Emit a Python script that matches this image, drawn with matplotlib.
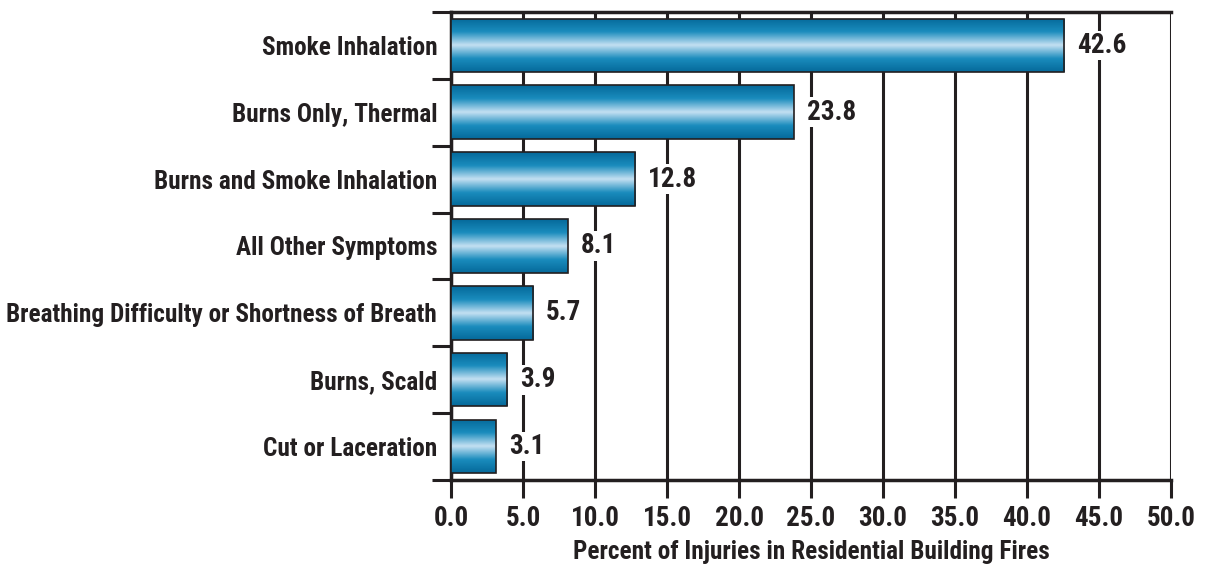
import matplotlib.pyplot as plt
import numpy as np
from matplotlib.colors import LinearSegmentedColormap
from matplotlib import font_manager

# Data
categories = ['Smoke Inhalation', 'Burns Only, Thermal', 'Burns and Smoke Inhalation',
              'All Other Symptoms', 'Breathing Difficulty or Shortness of Breath',
              'Burns, Scald', 'Cut or Laceration']
values = [42.6, 23.8, 12.8, 8.1, 5.7, 3.9, 3.1]
xticks = [0, 5, 10, 15, 20, 25, 30, 35, 40, 45, 50]

# look for a condensed bold face
cands = []
for f in font_manager.fontManager.ttflist:
    n = (f.name + ' ' + f.fname).lower()
    narrow = 'condensed' in n or 'narrow' in n or f.stretch in ('condensed', 'semi-condensed', 'extra-condensed')
    bold = f.weight in (700, 'bold') or 'bold' in f.fname.lower()
    if narrow and bold and 'oblique' not in n and 'italic' not in n:
        cands.append(f)
cands.sort(key=lambda f: ('roboto' not in f.fname.lower(), 'liberation' not in f.fname.lower(),
                          'semi' in f.fname.lower(), 'extra' in f.fname.lower()))
if cands:
    fp = font_manager.FontProperties(fname=cands[0].fname)
    condensed = True
else:
    fp = font_manager.FontProperties(family='DejaVu Sans', weight='bold')
    condensed = False

def font(size):
    p = fp.copy()
    p.set_size(size if condensed else size * 0.8)
    return p

ink = '#231f20'
fig = plt.figure(figsize=(12.06, 5.68), dpi=100)
ax = fig.add_axes([0.374, 0.155, 0.597, 0.824])

ypos = np.arange(len(categories))
bh = 0.8
bars = ax.barh(ypos, values, height=bh, facecolor='none', edgecolor=ink,
               linewidth=1.2, zorder=4)

cmap = LinearSegmentedColormap.from_list('tube', ['#05699a', '#1a8cbd', '#c4e0f2',
                                                  '#1a8cbd', '#05699a'])
grad = np.linspace(0, 1, 256).reshape(-1, 1)
for b, y, v in zip(bars, ypos, values):
    im = ax.imshow(grad, cmap=cmap, aspect='auto', interpolation='bicubic',
                   extent=[0, v, y + bh / 2, y - bh / 2], zorder=3)
    im.set_clip_path(b)
    ax.text(v + 0.9, y, f'{v:.1f}', va='center', ha='left', fontproperties=font(19.5),
            color=ink, zorder=5,
            bbox=dict(facecolor='white', edgecolor='none', pad=1))

ax.set_xlim(0, 50)
ax.set_ylim(len(categories) - 0.5, -0.5)
ax.set_xticks(xticks)
ax.set_xticklabels([f'{t:.1f}' for t in xticks], fontproperties=font(19.5))
ax.set_yticks(ypos)
ax.set_yticklabels(categories, fontproperties=font(18.2))
ax.set_yticks(np.arange(len(categories) + 1) - 0.5, minor=True)
ax.tick_params(axis='y', which='major', length=0, pad=10, colors=ink)
ax.tick_params(axis='y', which='minor', length=14, width=2.2, color=ink)
ax.tick_params(axis='x', length=13, width=2.2, pad=5, color=ink, labelcolor=ink)

ax.grid(axis='x', color=ink, linewidth=2.2, zorder=1)
ax.set_axisbelow(True)
for s in ['left', 'bottom', 'top']:
    ax.spines[s].set_linewidth(2.5)
    ax.spines[s].set_color(ink)
ax.spines['right'].set_visible(False)

ax.set_xlabel('Percent of Injuries in Residential Building Fires', fontproperties=font(18.2),
              labelpad=6, color=ink)

fig.savefig('out.png', dpi=100)
